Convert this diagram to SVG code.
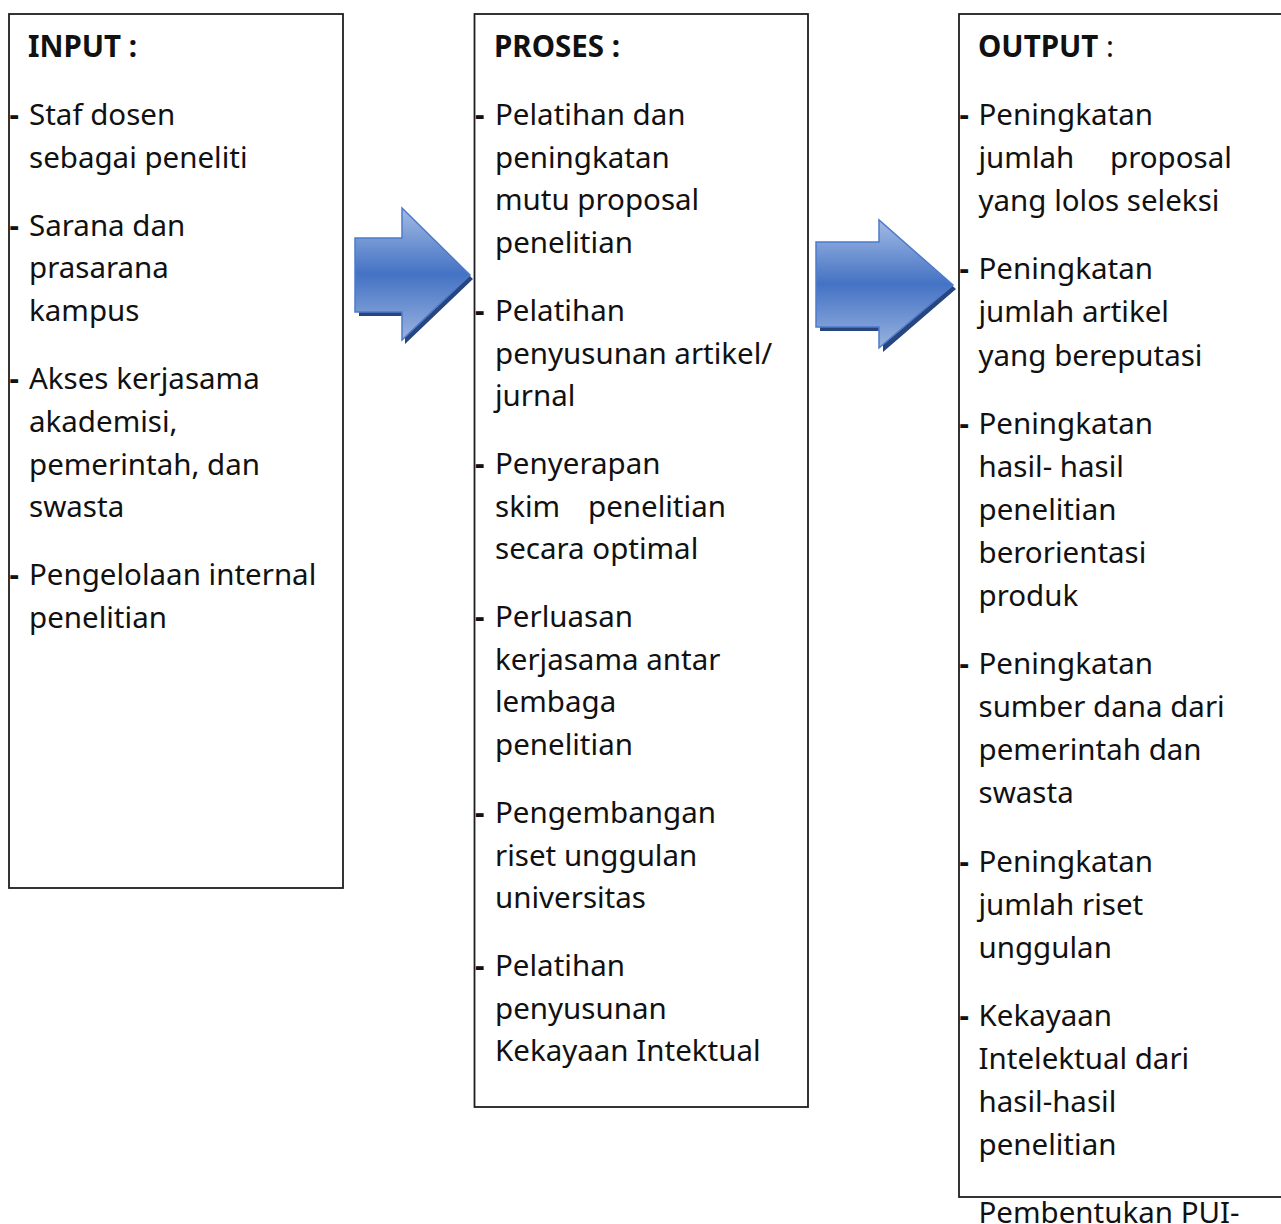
<svg xmlns="http://www.w3.org/2000/svg" width="1281" height="1224" viewBox="0 0 1281 1224">
<style>
.box{fill:#fff;stroke:#1e1e1e;stroke-width:1.8}
.t{font-family:"Noto Sans","Open Sans",sans-serif;font-size:29.5px;fill:#111}
.b{font-weight:bold}
.d{font-family:"Noto Sans","Open Sans",sans-serif;font-size:29.5px;font-weight:bold;fill:#111}
.arrow{fill:url(#ag);stroke:#4d7bcb;stroke-width:1.5;stroke-linejoin:miter}
.shadow{fill:#27457f}
</style>
<defs>
<linearGradient id="ag" x1="0" y1="0" x2="0" y2="1">
<stop offset="0" stop-color="#a3bbe3"/>
<stop offset="0.5" stop-color="#4472c4"/>
<stop offset="1" stop-color="#9ab3e0"/>
</linearGradient>
</defs>
<rect width="1281" height="1224" fill="#fff"/>

<g id="input">
<rect class="box" x="9" y="14" width="334" height="874"/>
<text class="t b" x="28" y="57">INPUT :</text>
<text class="d" x="9.5" y="125">-</text>
<text class="t" x="29" y="125">Staf dosen</text>
<text class="t" x="29" y="167.8">sebagai peneliti</text>
<text class="d" x="9.5" y="235.6">-</text>
<text class="t" x="29" y="235.6">Sarana dan</text>
<text class="t" x="29" y="278.4">prasarana</text>
<text class="t" x="29" y="321.2">kampus</text>
<text class="d" x="9.5" y="389">-</text>
<text class="t" x="29" y="389">Akses kerjasama</text>
<text class="t" x="29" y="431.8">akademisi,</text>
<text class="t" x="29" y="474.6">pemerintah, dan</text>
<text class="t" x="29" y="517.4">swasta</text>
<text class="d" x="9.5" y="585.2">-</text>
<text class="t" x="29" y="585.2">Pengelolaan internal</text>
<text class="t" x="29" y="628">penelitian</text>
</g>

<g id="proses">
<rect class="box" x="474.5" y="14" width="333.5" height="1093"/>
<text class="t b" x="494" y="57">PROSES :</text>
<text class="d" x="475" y="125">-</text>
<text class="t" x="495" y="125">Pelatihan dan</text>
<text class="t" x="495" y="167.7">peningkatan</text>
<text class="t" x="495" y="210.4">mutu proposal</text>
<text class="t" x="495" y="253.1">penelitian</text>
<text class="d" x="475" y="320.8">-</text>
<text class="t" x="495" y="320.8">Pelatihan</text>
<text class="t" x="495" y="363.5">penyusunan artikel/</text>
<text class="t" x="495" y="406.2">jurnal</text>
<text class="d" x="475" y="473.9">-</text>
<text class="t" x="495" y="473.9">Penyerapan</text>
<text class="t" x="495" y="516.6">skim<tspan x="588">penelitian</tspan></text>
<text class="t" x="495" y="559.3">secara optimal</text>
<text class="d" x="475" y="627">-</text>
<text class="t" x="495" y="627">Perluasan</text>
<text class="t" x="495" y="669.7">kerjasama antar</text>
<text class="t" x="495" y="712.4">lembaga</text>
<text class="t" x="495" y="755.1">penelitian</text>
<text class="d" x="475" y="822.8">-</text>
<text class="t" x="495" y="822.8">Pengembangan</text>
<text class="t" x="495" y="865.5">riset unggulan</text>
<text class="t" x="495" y="908.2">universitas</text>
<text class="d" x="475" y="975.9">-</text>
<text class="t" x="495" y="975.9">Pelatihan</text>
<text class="t" x="495" y="1018.6">penyusunan</text>
<text class="t" x="495" y="1061.3">Kekayaan Intektual</text>
</g>

<g id="output">
<rect class="box" x="959" y="14" width="340" height="1183"/>
<text class="t" x="978" y="57"><tspan class="b">OUTPUT</tspan> :</text>
<text class="d" x="959.5" y="125">-</text>
<text class="t" x="978.5" y="125">Peningkatan</text>
<text class="t" x="978.5" y="168.1">jumlah<tspan x="1110">proposal</tspan></text>
<text class="t" x="978.5" y="211.2">yang lolos seleksi</text>
<text class="d" x="959.5" y="279.3">-</text>
<text class="t" x="978.5" y="279.3">Peningkatan</text>
<text class="t" x="978.5" y="322.4">jumlah artikel</text>
<text class="t" x="978.5" y="365.5">yang bereputasi</text>
<text class="d" x="959.5" y="433.6">-</text>
<text class="t" x="978.5" y="433.6">Peningkatan</text>
<text class="t" x="978.5" y="476.7">hasil- hasil</text>
<text class="t" x="978.5" y="519.8">penelitian</text>
<text class="t" x="978.5" y="562.9">berorientasi</text>
<text class="t" x="978.5" y="606">produk</text>
<text class="d" x="959.5" y="674.1">-</text>
<text class="t" x="978.5" y="674.1">Peningkatan</text>
<text class="t" x="978.5" y="717.2">sumber dana dari</text>
<text class="t" x="978.5" y="760.3">pemerintah dan</text>
<text class="t" x="978.5" y="803.4">swasta</text>
<text class="d" x="959.5" y="871.5">-</text>
<text class="t" x="978.5" y="871.5">Peningkatan</text>
<text class="t" x="978.5" y="914.6">jumlah riset</text>
<text class="t" x="978.5" y="957.7">unggulan</text>
<text class="d" x="959.5" y="1025.8">-</text>
<text class="t" x="978.5" y="1025.8">Kekayaan</text>
<text class="t" x="978.5" y="1068.9">Intelektual dari</text>
<text class="t" x="978.5" y="1112">hasil-hasil</text>
<text class="t" x="978.5" y="1155.1">penelitian</text>
<text class="t" x="978.5" y="1223.2">Pembentukan PUI-</text>
</g>

<g id="connectors">
<path class="shadow" d="M359,242 H405 V212 L473,279 L405,344 V316 H359 Z"/>
<path class="arrow" d="M355,238 H402 V208 L470,275 L402,340 V312 H355 Z"/>
<path class="shadow" d="M820,246 H883 V224 L956,289 L883,352 V331 H820 Z"/>
<path class="arrow" d="M816,242 H879 V220 L953,285 L879,348 V327 H816 Z"/>
</g>
</svg>
